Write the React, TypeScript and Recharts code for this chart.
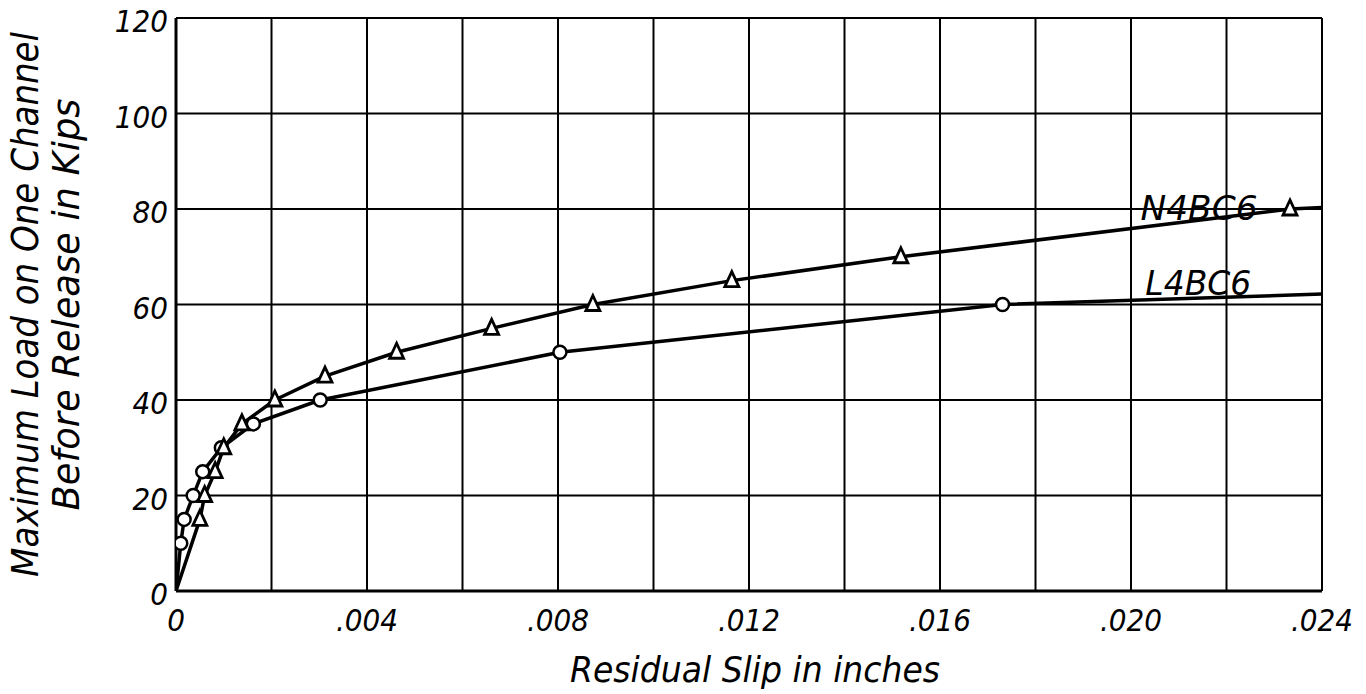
import React from 'react';
import {
  CartesianGrid,
  Line,
  LineChart,
  ReferenceDot,
  XAxis,
  YAxis,
} from 'recharts';

document.body.style.margin = '0';
document.body.style.overflow = 'hidden';

// L4BC6 (circles) – residual slip (in) vs max load (kips); last point is the line run-out
const l4Slip = [0, 0.0001, 0.00017, 0.00036, 0.00056, 0.00095, 0.00162, 0.00302, 0.00804, 0.01731, 0.024];
const l4Load = [0, 10, 15, 20, 25, 30, 35, 40, 50, 60, 62.2];

// N4BC6 (triangles)
const n4Slip = [0, 0.0005, 0.0006, 0.00082, 0.001, 0.00138, 0.00207, 0.00312, 0.00462, 0.00661, 0.00873, 0.01164, 0.01518, 0.02333, 0.024];
const n4Load = [0, 15, 20, 25, 30, 35, 40, 45, 50, 55, 60, 65, 70, 80, 80.3];

const xTicks = [0, 0.002, 0.004, 0.006, 0.008, 0.01, 0.012, 0.014, 0.016, 0.018, 0.02, 0.022, 0.024];
const yTicks = [0, 20, 40, 60, 80, 100, 120];

const yTitle = ['Maximum Load on One Channel', 'Before Release in Kips'];
const xTitle = 'Residual Slip in inches';

const FONT = "'Liberation Sans Narrow', 'DejaVu Sans Condensed', 'DejaVu Sans', sans-serif";

const toRows = (xs: number[], ys: number[]) =>
  xs.map((x, i) => ({ slip: x, load: ys[i], mark: i > 0 && i < xs.length - 1 }));

const l4Data = toRows(l4Slip, l4Load);
const n4Data = toRows(n4Slip, n4Load);

function fmtX(v: number) {
  const m = Math.round(v * 1000);
  if (m === 0) return '0';
  if (m % 4 !== 0) return '';
  return '.' + String(m).padStart(3, '0');
}

const CircleDot = (props: any) => {
  const { cx, cy, payload, index } = props;
  if (!payload.mark) return <g key={'c' + index} />;
  return <circle key={'c' + index} cx={cx} cy={cy} r={6.5} fill="#fff" stroke="#000" strokeWidth={2.5} />;
};

const TriDot = (props: any) => {
  const { cx, cy, payload, index } = props;
  if (!payload.mark) return <g key={'t' + index} />;
  const s = 8;
  return (
    <polygon
      key={'t' + index}
      points={`${cx},${cy - s - 1} ${cx - s + 1},${cy + s - 2} ${cx + s - 1},${cy + s - 2}`}
      fill="#fff"
      stroke="#000"
      strokeWidth={2.8}
    />
  );
};

const seriesLabel = (text: string, len: number) => (p: any) => {
  const vb = p.viewBox || {};
  return (
    <text
      x={vb.x}
      y={vb.y}
      fontFamily={FONT}
      fontStyle="italic"
      fontSize={34}
      textLength={len}
      lengthAdjust="spacingAndGlyphs"
      fill="#000"
    >
      {text}
    </text>
  );
};

export default function App() {
  return (
    <LineChart width={1366} height={694} margin={{ top: 18, right: 44, bottom: 0, left: 0 }}>
      <CartesianGrid stroke="#000" strokeWidth={2} />
      <XAxis
        type="number"
        dataKey="slip"
        domain={[0, 0.024]}
        ticks={xTicks}
        tickFormatter={fmtX}
        tickLine={false}
        tickMargin={12}
        height={103}
        axisLine={{ stroke: '#000', strokeWidth: 3 }}
        tick={{ fill: '#000', fontSize: 31, fontStyle: 'italic', fontFamily: FONT }}
        interval={0}
        allowDataOverflow
        label={(p: any) => {
          const vb = p.viewBox;
          return (
            <text
              x={vb.x + vb.width / 2 + 6}
              y={vb.y + 91}
              textAnchor="middle"
              fontFamily={FONT}
              fontStyle="italic"
              fontSize={36}
              textLength={370}
              lengthAdjust="spacingAndGlyphs"
              fill="#000"
            >
              {xTitle}
            </text>
          );
        }}
      />
      <YAxis
        type="number"
        domain={[0, 120]}
        ticks={yTicks}
        tickLine={false}
        tickMargin={2}
        width={176}
        axisLine={{ stroke: '#000', strokeWidth: 3 }}
        tick={{ fill: '#000', fontSize: 31, fontStyle: 'italic', fontFamily: FONT, dy: 3 }}
        interval={0}
        label={(p: any) => {
          const vb = p.viewBox;
          const cy = vb.y + vb.height / 2;
          return (
            <g>
              <text
                transform={`translate(${vb.x + 38},${cy}) rotate(-90)`}
                textAnchor="middle"
                fontFamily={FONT}
                fontStyle="italic"
                fontSize={38}
                textLength={545}
                lengthAdjust="spacingAndGlyphs"
                fill="#000"
              >
                {yTitle[0]}
              </text>
              <text
                transform={`translate(${vb.x + 79},${cy}) rotate(-90)`}
                textAnchor="middle"
                fontFamily={FONT}
                fontStyle="italic"
                fontSize={38}
                textLength={412}
                lengthAdjust="spacingAndGlyphs"
                fill="#000"
              >
                {yTitle[1]}
              </text>
            </g>
          );
        }}
      />
      <Line
        data={l4Data}
        dataKey="load"
        type="linear"
        stroke="#000"
        strokeWidth={3.5}
        strokeLinejoin="round"
        dot={CircleDot}
        activeDot={false}
        isAnimationActive={false}
      />
      <Line
        data={n4Data}
        dataKey="load"
        type="linear"
        stroke="#000"
        strokeWidth={3.5}
        strokeLinejoin="round"
        dot={TriDot}
        activeDot={false}
        isAnimationActive={false}
      />
      <ReferenceDot x={0.0202} y={77.8} r={0} fill="none" stroke="none" label={seriesLabel('N4BC6', 117)} />
      <ReferenceDot x={0.0203} y={62} r={0} fill="none" stroke="none" label={seriesLabel('L4BC6', 106)} />
    </LineChart>
  );
}
